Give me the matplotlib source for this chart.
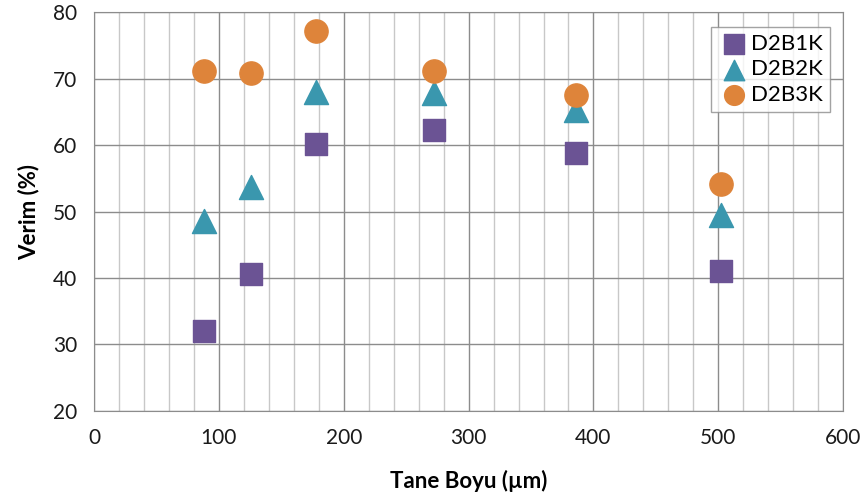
import matplotlib
matplotlib.use('Agg')
import matplotlib.pyplot as plt
from matplotlib.ticker import MultipleLocator

plt.rcParams['font.family'] = ['Lato', 'DejaVu Sans']

tane_boyu = [88, 126, 178, 272, 386, 502]
d2b1k = [32.0, 40.6, 60.2, 62.3, 58.8, 41.0]
d2b2k = [48.6, 53.7, 68.0, 67.8, 65.3, 49.5]
d2b3k = [71.1, 70.8, 77.1, 71.1, 67.6, 54.2]

fig = plt.figure(figsize=(8.63, 5.03), dpi=100)
ax = fig.add_axes([0.109, 0.183, 0.868, 0.793])

ax.scatter(tane_boyu, d2b1k, marker='s', s=260, color='#6B5394', label='D2B1K', zorder=3)
ax.scatter(tane_boyu, d2b2k, marker='^', s=300, color='#3A97AE', label='D2B2K', zorder=3)
ax.scatter(tane_boyu, d2b3k, marker='o', s=280, color='#DE843A', label='D2B3K', zorder=3)

ax.set_xlim(0, 600)
ax.set_ylim(20, 80)
ax.xaxis.set_major_locator(MultipleLocator(100))
ax.xaxis.set_minor_locator(MultipleLocator(20))
ax.yaxis.set_major_locator(MultipleLocator(10))
ax.grid(which='major', color='#8C8C8C', linewidth=1.0)
ax.grid(which='minor', axis='x', color='#C8C8C8', linewidth=1.0)
ax.set_axisbelow(True)
ax.tick_params(which='both', length=0, labelsize=15, colors='#1a1a1a', pad=12)
for s in ax.spines.values():
	s.set_color('#8C8C8C')

ax.set_xlabel('Tane Boyu (µm)', fontsize=16, fontweight='bold', labelpad=16)
ax.set_ylabel('Verim (%)', fontsize=16, fontweight='bold', labelpad=10)

leg = ax.legend(loc='upper right', fontsize=16, frameon=True, fancybox=False,
				handletextpad=0.1, borderpad=0.3, labelspacing=0.25, markerscale=0.85,
				handlelength=1.4, bbox_to_anchor=(0.997, 0.99))
leg.get_frame().set_edgecolor('#8C8C8C')
leg.get_frame().set_linewidth(1.0)

fig.savefig('out.png', dpi=100)
